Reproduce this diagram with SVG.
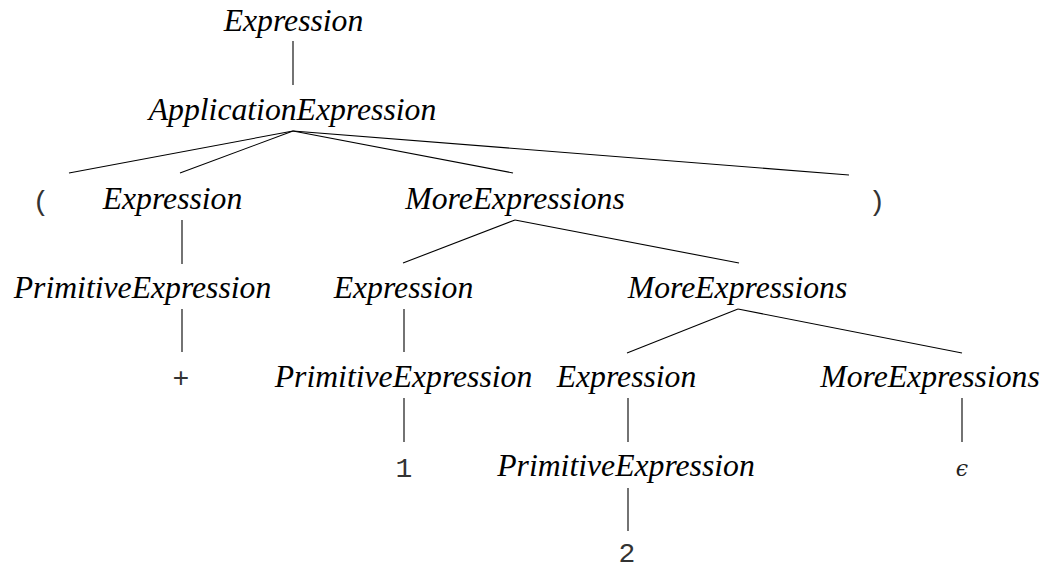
<svg xmlns="http://www.w3.org/2000/svg" width="1049" height="567" viewBox="0 0 1049 567">
<style>
.nt{font-family:"Liberation Serif","Times New Roman",serif;font-style:italic;font-size:31.7px;fill:#000;text-anchor:middle}
.tt{font-family:"Liberation Mono","Courier New",monospace;font-size:28px;fill:#333;text-anchor:middle}
.eps{font-family:"DejaVu Serif","Liberation Serif",serif;font-style:italic;font-size:22px;fill:#222;text-anchor:middle}
.edge{stroke:#000;stroke-width:1.1;fill:none}
</style>
<rect width="1049" height="567" fill="#fff"/>
<g id="connectors">
<line class="edge" x1="293" y1="41" x2="293" y2="85"/>
<line class="edge" x1="293" y1="131" x2="69" y2="173"/>
<line class="edge" x1="293" y1="131" x2="180" y2="173"/>
<line class="edge" x1="293" y1="131" x2="513" y2="173"/>
<line class="edge" x1="293" y1="131" x2="849" y2="175"/>
<line class="edge" x1="182" y1="220" x2="182" y2="264"/>
<line class="edge" x1="182" y1="309" x2="182" y2="352"/>
<line class="edge" x1="515" y1="220" x2="403" y2="263"/>
<line class="edge" x1="515" y1="220" x2="739" y2="263"/>
<line class="edge" x1="404" y1="309" x2="404" y2="352"/>
<line class="edge" x1="404" y1="398" x2="404" y2="442"/>
<line class="edge" x1="738" y1="309" x2="627" y2="353"/>
<line class="edge" x1="738" y1="309" x2="962" y2="353"/>
<line class="edge" x1="628" y1="398" x2="628" y2="442"/>
<line class="edge" x1="962" y1="398" x2="962" y2="442"/>
<line class="edge" x1="628" y1="488" x2="628" y2="531"/>
</g>
<g id="n0"><text class="nt" x="293.5" y="31">Expression</text></g>
<g id="n1"><text class="nt" x="292.5" y="120">ApplicationExpression</text></g>
<g id="n2"><text class="tt" x="41" y="210">(</text></g>
<g id="n3"><text class="nt" x="172.5" y="209">Expression</text></g>
<g id="n4"><text class="nt" x="515" y="209">MoreExpressions</text></g>
<g id="n5"><text class="tt" x="877" y="210">)</text></g>
<g id="n6"><text class="nt" x="142.5" y="298">PrimitiveExpression</text></g>
<g id="n7"><text class="nt" x="403.5" y="298">Expression</text></g>
<g id="n8"><text class="nt" x="737.5" y="298">MoreExpressions</text></g>
<g id="n9"><text class="tt" x="181" y="387">+</text></g>
<g id="n10"><text class="nt" x="403.5" y="387">PrimitiveExpression</text></g>
<g id="n11"><text class="nt" x="626.5" y="387">Expression</text></g>
<g id="n12"><text class="nt" x="930" y="387">MoreExpressions</text></g>
<g id="n13"><text class="tt" x="404" y="477">1</text></g>
<g id="n14"><text class="nt" x="626" y="476">PrimitiveExpression</text></g>
<g id="n15"><text class="eps" x="962" y="476">ϵ</text></g>
<g id="n16"><text class="tt" x="627" y="562">2</text></g>
</svg>
